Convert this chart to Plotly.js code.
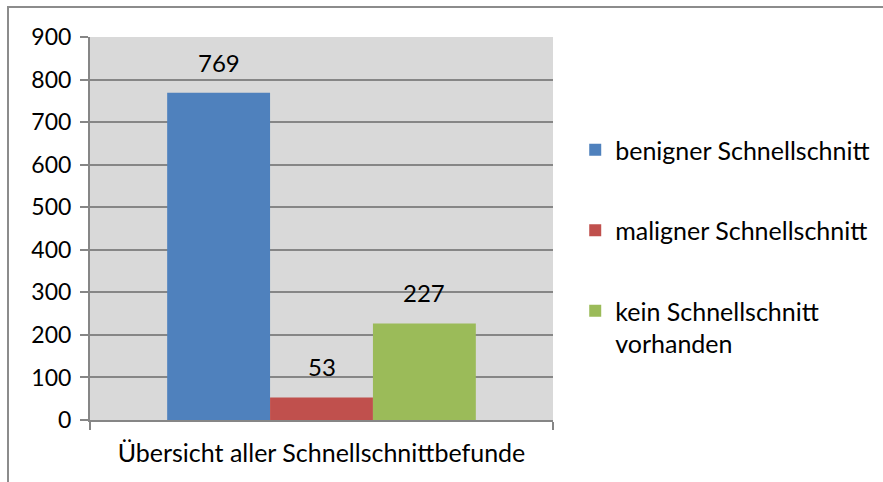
<!DOCTYPE html>
<html><head><meta charset="utf-8">
<script src="https://cdn.plot.ly/plotly-3.0.1.min.js"></script>
<style>
html,body{margin:0;padding:0;background:#fff;}
#frame{position:absolute;left:7px;top:6px;width:876px;height:476px;border-top:2px solid #8c8c8c;border-left:2px solid #8c8c8c;}
#chart{position:absolute;left:0;top:0;width:883px;height:482px;}
</style></head>
<body>
<div id="frame"></div>
<div id="chart"></div>
<script>
var category = ["Übersicht aller Schnellschnittbefunde"];
var seriesNames = ["benigner Schnellschnitt", "maligner Schnellschnitt", "kein Schnellschnitt<br>vorhanden"];
var seriesValues = [769, 53, 227];
var seriesColors = ["#4F81BD", "#C0504D", "#9BBB59"];
var yTicks = [0, 100, 200, 300, 400, 500, 600, 700, 800, 900];

var FONT = "Lato, 'Open Sans', sans-serif";
var bargap = 1/3;
var n = seriesNames.length;
var w = (1 - bargap) / n;

var traces = seriesNames.map(function(name, i){
  return {
    type: "bar",
    x: category,
    y: [seriesValues[i]],
    name: name,
    legendgroup: "g" + i,
    marker: {color: seriesColors[i], line: {width: 0}},
    hoverinfo: "skip"
  };
});

var annotations = seriesValues.map(function(v, i){
  return {
    x: (i - (n - 1) / 2) * w,
    y: v,
    xref: "x", yref: "y",
    text: String(v),
    showarrow: false,
    yanchor: "bottom",
    yshift: 14,
    font: {family: FONT, size: 24, color: "#000"}
  };
});

var layout = {
  width: 883, height: 482,
  margin: {l: 90, r: 330, t: 37, b: 62, autoexpand: false},
  paper_bgcolor: "rgba(0,0,0,0)",
  plot_bgcolor: "#D9D9D9",
  barmode: "group",
  bargap: bargap,
  bargroupgap: 0,
  font: {family: FONT, size: 24, color: "#000"},
  xaxis: {
    type: "category",
    range: [-0.5, 0.5],
    showline: true, linecolor: "#868686", linewidth: 2,
    ticks: "outside", tickson: "boundaries", ticklen: 8, tickcolor: "#868686", tickwidth: 2,
    showgrid: false,
    tickfont: {family: FONT, size: 25, color: "#000"},
    ticklabelstandoff: 10,
    automargin: false,
    fixedrange: true
  },
  yaxis: {
    range: [0, 900],
    tickvals: yTicks,
    showline: true, linecolor: "#868686", linewidth: 2,
    ticks: "outside", ticklen: 8, tickcolor: "#868686", tickwidth: 2,
    showgrid: true, gridcolor: "#868686", gridwidth: 2,
    zeroline: false,
    tickfont: {family: FONT, size: 23, color: "#000"},
    ticklabelstandoff: 4,
    automargin: false,
    fixedrange: true
  },
  legend: {
    x: 1.048, xanchor: "left",
    y: 0.765, yanchor: "top",
    bgcolor: "rgba(0,0,0,0)",
    font: {family: FONT, size: 25, color: "#000"},
    tracegroupgap: 45,
    itemwidth: 30,
    valign: "top",
    traceorder: "grouped"
  },
  annotations: annotations,
  showlegend: true
};

Plotly.newPlot("chart", traces, layout, {displayModeBar: false, staticPlot: true});
</script>
</body></html>
